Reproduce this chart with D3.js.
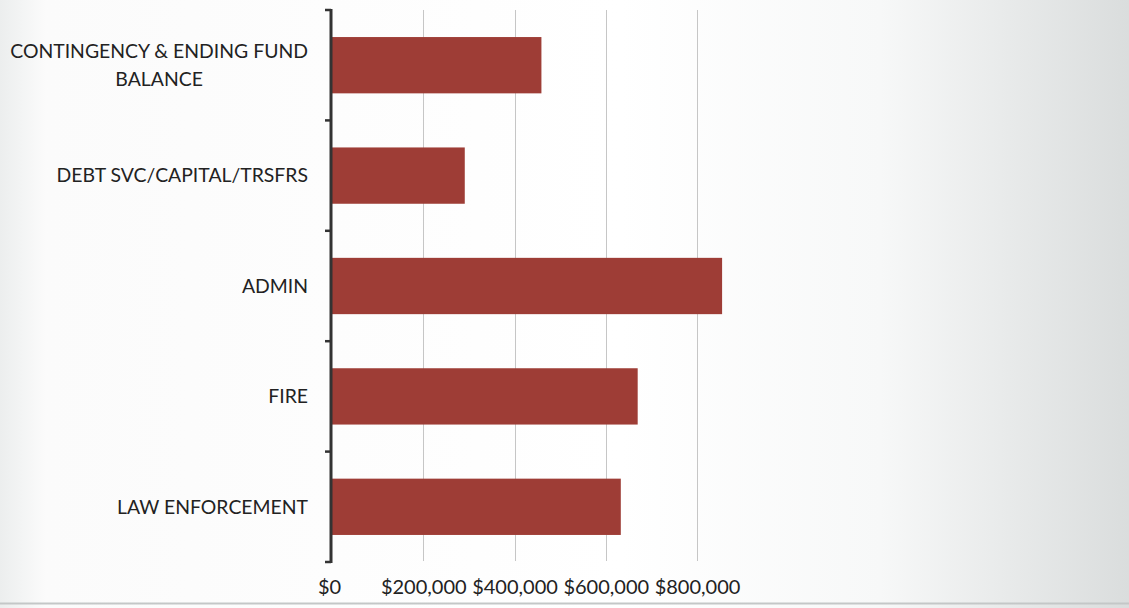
<!DOCTYPE html>
<html>
<head>
<meta charset="utf-8">
<script src="https://cdn.jsdelivr.net/npm/d3@7"></script>
<style>
  body { margin: 0; background: #fff; }
  text { font-family: Lato, "Open Sans", sans-serif; fill: #222; }
</style>
</head>
<body>
<script>
// chart data
var categories = ["CONTINGENCY & ENDING FUND BALANCE", "DEBT SVC/CAPITAL/TRSFRS", "ADMIN", "FIRE", "LAW ENFORCEMENT"];
var labelLines = [["CONTINGENCY & ENDING FUND", "BALANCE"], ["DEBT SVC/CAPITAL/TRSFRS"], ["ADMIN"], ["FIRE"], ["LAW ENFORCEMENT"]];
var values = [459000, 291000, 855000, 670000, 633000];
var tickValues = [0, 200000, 400000, 600000, 800000];

var W = 1129, H = 608;

var svg = d3.select("body").append("svg")
    .attr("width", W)
    .attr("height", H);

// background: white fading to grey on the right, like the scanned page
var defs = svg.append("defs");
var grad = defs.append("linearGradient").attr("id", "bg").attr("x1", 0).attr("x2", 1).attr("y1", 0).attr("y2", 0);
grad.append("stop").attr("offset", "0").attr("stop-color", "#eceeee");
grad.append("stop").attr("offset", "0.04").attr("stop-color", "#fbfbfb");
grad.append("stop").attr("offset", "0.55").attr("stop-color", "#ffffff");
grad.append("stop").attr("offset", "0.78").attr("stop-color", "#f7f8f8");
grad.append("stop").attr("offset", "1").attr("stop-color", "#dadddd");
svg.append("rect").attr("width", W).attr("height", H).attr("fill", "url(#bg)");
svg.append("line").attr("x1", 0).attr("x2", W).attr("y1", 603.5).attr("y2", 603.5)
    .attr("stroke", "#c4c7c7").attr("stroke-width", 2);

// scales
var x = d3.scaleLinear().domain([0, 800000]).range([332, 697]);
var y = d3.scaleBand().domain(categories).range([10, 562])
    .paddingInner(0.49).paddingOuter(0.245);

// vertical gridlines
svg.append("g").selectAll("line")
    .data(tickValues.slice(1))
  .enter().append("line")
    .attr("x1", function(d) { return Math.round(x(d)) + 0.5; })
    .attr("x2", function(d) { return Math.round(x(d)) + 0.5; })
    .attr("y1", 10)
    .attr("y2", 561)
    .attr("stroke", "#c6c6c6")
    .attr("stroke-width", 1);

// bars
svg.append("g").selectAll("rect")
    .data(values)
  .enter().append("rect")
    .attr("x", x(0))
    .attr("y", function(d, i) { return y(categories[i]); })
    .attr("width", function(d) { return x(d) - x(0); })
    .attr("height", y.bandwidth())
    .attr("fill", "#9e3d36");

// x axis labels
var xAxis = d3.axisBottom(x)
    .tickValues(tickValues)
    .tickSize(0)
    .tickFormat(function(d) { return "$" + d3.format(",")(d); });
var gx = svg.append("g")
    .attr("transform", "translate(0,577)")
    .call(xAxis);
gx.select(".domain").remove();
gx.selectAll("text")
    .attr("dy", "0.71em")
    .style("font-size", "20px")
    .style("font-family", "Lato, sans-serif")
    .attr("fill", "#222");
gx.selectAll(".tick").filter(function(d) { return d === 0; })
    .select("text").attr("x", -3);

// category axis: line with boundary ticks
var gy = svg.append("g");
var bounds = d3.range(categories.length + 1).map(function(i) {
  return y.range()[0] + i * y.step();
});
gy.append("line")
    .attr("x1", 331).attr("x2", 331)
    .attr("y1", 9).attr("y2", 563)
    .attr("stroke", "#333").attr("stroke-width", 3);
gy.selectAll(".btick")
    .data(bounds)
  .enter().append("line")
    .attr("class", "btick")
    .attr("x1", 325).attr("x2", 331)
    .attr("y1", function(d) { return d; })
    .attr("y2", function(d) { return d; })
    .attr("stroke", "#333").attr("stroke-width", 2.5);

// category labels
var labels = svg.append("g").selectAll("text")
    .data(categories)
  .enter().append("text")
    .attr("text-anchor", "middle")
    .style("font-size", "19.4px");
labels.each(function(c, i) {
  var lines = labelLines[i];
  var cy = y(c) + y.bandwidth() / 2;
  var lineH = 28;
  var t = d3.select(this);
  var w = 0;
  // measure widest line, then centre the block so it right-aligns at 308
  lines.forEach(function(l, k) {
    t.append("tspan")
        .attr("y", cy + (k - (lines.length - 1) / 2) * lineH)
        .attr("dy", "0.35em")
        .text(l);
  });
  t.selectAll("tspan").each(function() { w = Math.max(w, this.getComputedTextLength()); });
  t.selectAll("tspan").attr("x", 308 - w / 2);
});
</script>
</body>
</html>
